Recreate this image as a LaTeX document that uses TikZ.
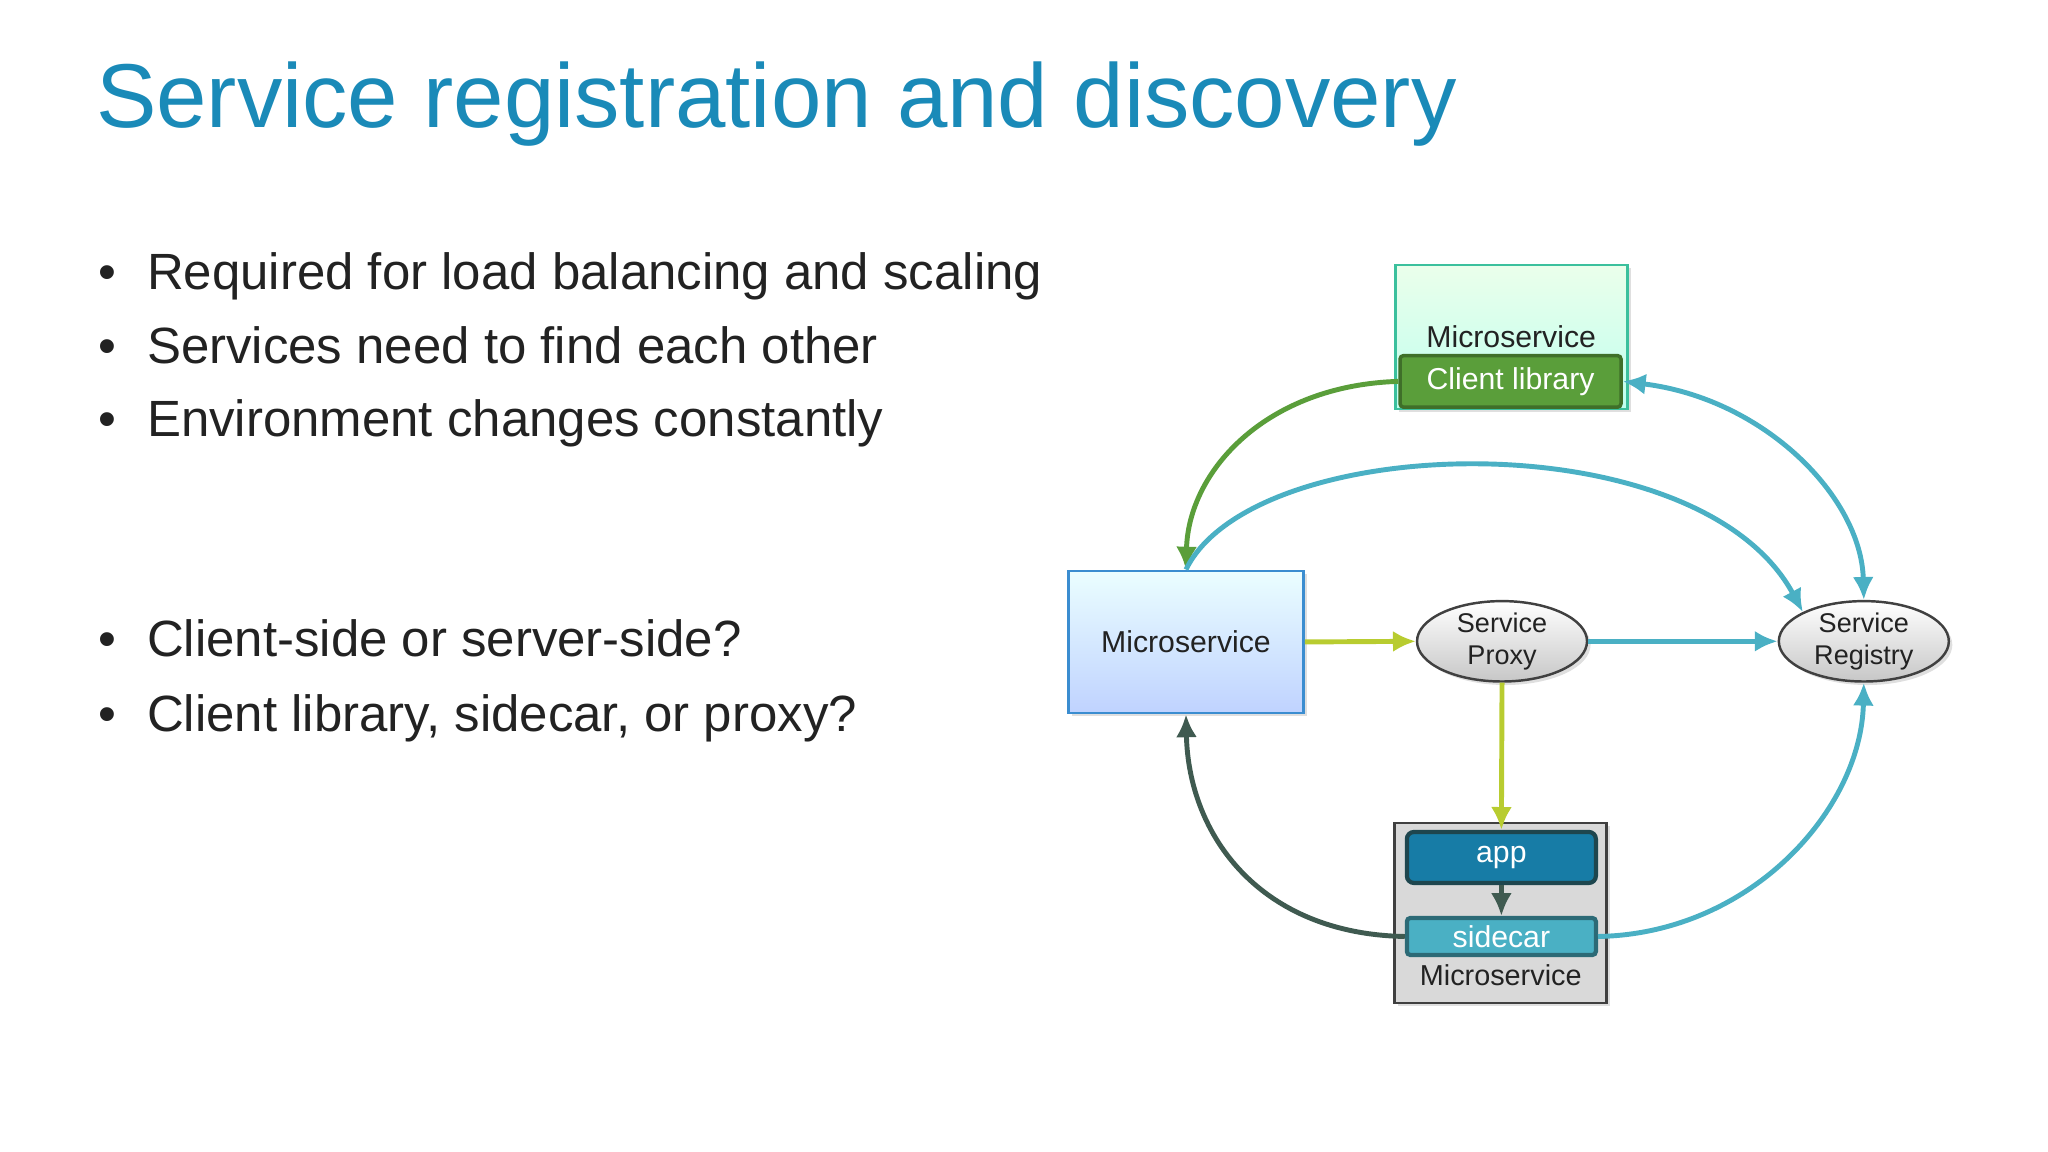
\documentclass[tikz,border=0pt]{standalone}
\usepackage{fontspec}
\setmainfont{Liberation Sans}
\usetikzlibrary{arrows.meta,shadows,shapes.geometric}
\definecolor{titleblue}{HTML}{1A8AB8}
\definecolor{txt}{HTML}{222222}
\definecolor{grn}{HTML}{5A9E3A}
\definecolor{teal}{HTML}{4AB0C4}
\definecolor{yg}{HTML}{B8CC30}
\definecolor{dk}{HTML}{3F5A50}
\begin{document}
\begin{tikzpicture}[x=0.01306cm,y=-0.01306cm,
  lbl/.style={font=\fontsize{8.2}{10}\selectfont,text=txt},
  box/.style={draw,line width=0.8pt,drop shadow={opacity=0.25,shadow xshift=1pt,shadow yshift=-1pt}},
  ell/.style={ellipse,draw=black!75,line width=0.7pt,top color=white,bottom color=black!22,minimum width=1.70cm,minimum height=0.78cm,align=center,lbl,inner sep=0pt,font=\fontsize{7.7}{9}\selectfont,drop shadow={opacity=0.25,shadow xshift=1pt,shadow yshift=-1pt}},
  arr/.style={line width=1.4pt,-{Latex[length=6.5pt,width=6pt]}},
  bul/.style={anchor=base west,font=\fontsize{14.5}{17}\selectfont,text=txt}]
\useasboundingbox (0,0) rectangle (1568,882);
\node[anchor=base west,font=\fontsize{25.8}{32}\selectfont,text=titleblue] (title) at (64,98) {Service registration and discovery};
\node[bul] (b1) at (66,222) {•\hspace{0.6em}Required for load balancing and scaling};
\node[bul] (b2) at (66,278) {•\hspace{0.6em}Services need to find each other};
\node[bul] (b3) at (66,334) {•\hspace{0.6em}Environment changes constantly};
\node[bul] (b4) at (66,503) {•\hspace{0.6em}Client-side or server-side?};
\node[bul] (b5) at (66,560) {•\hspace{0.6em}Client library, sidecar, or proxy?};
% top microservice
\node[box,draw=teal!80!green,top color=green!8!white,bottom color=green!25!cyan!25!white,minimum width=2.32cm,minimum height=1.44cm] (tm) at (1157,258) {};
\node[lbl,font=\fontsize{8.6}{10}\selectfont] (tmt) at (1157,258) {Microservice};
\node[draw=grn!70!black,line width=1pt,fill=grn,rounded corners=1pt,minimum width=2.21cm,minimum height=0.44cm,text=white,font=\fontsize{8.6}{10}\selectfont] (cl) at (1156.5,292) {Client library};
% left microservice
\node[box,draw=teal!80!blue,top color=blue!5!cyan!8!white,bottom color=cyan!30!blue!25!white,minimum width=2.35cm,minimum height=1.42cm,lbl,font=\fontsize{8.6}{10}\selectfont] (ms) at (908,491.5) {Microservice};
% ellipses
\node[ell] (sp) at (1150,491) {Service\\Proxy};
\node[ell] (sr) at (1427,491) {Service\\Registry};
% bottom box
\node[box,draw=black!75,fill=black!15,minimum width=2.12cm,minimum height=1.80cm] (bm) at (1149,699) {};
\node[lbl] (bmt) at (1149,747) {Microservice};
\node[draw=teal!40!black,line width=1.2pt,fill=titleblue!90!black,rounded corners=2pt,minimum width=1.89cm,minimum height=0.51cm,text=white,font=\fontsize{8.6}{10}\selectfont] (app) at (1149.5,656.5) {app};
\node[draw=teal!60!black,line width=1.2pt,fill=teal,rounded corners=1pt,minimum width=1.89cm,minimum height=0.37cm,inner sep=0pt,text=white,font=\fontsize{8.6}{10}\selectfont] (sc) at (1149.5,717) {sidecar};
% connectors
\draw[arr,grn] (cl.west) .. controls (970,295) and (910,360) .. (ms.north);
\draw[arr,teal] (ms.north) .. controls (960,330) and (1300,320) .. (sr.north west);
\draw[line width=1.4pt,teal,{Latex[length=6.5pt,width=6pt]}-{Latex[length=6.5pt,width=6pt]}] (cl.east) .. controls (1350,305) and (1425,380) .. (sr.north);
\draw[arr,yg] (ms.east) -- (sp.west);
\draw[arr,teal] (sp.east) -- (sr.west);
\draw[arr,yg] (sp.south) -- (app.north);
\draw[arr,dk,line width=1.2pt] (app.south) -- (sc.north);
\draw[arr,dk] (sc.west) .. controls (965,715) and (910,640) .. (ms.south);
\draw[arr,teal] (sc.east) .. controls (1340,715) and (1425,620) .. (sr.south);
\end{tikzpicture}
\end{document}
